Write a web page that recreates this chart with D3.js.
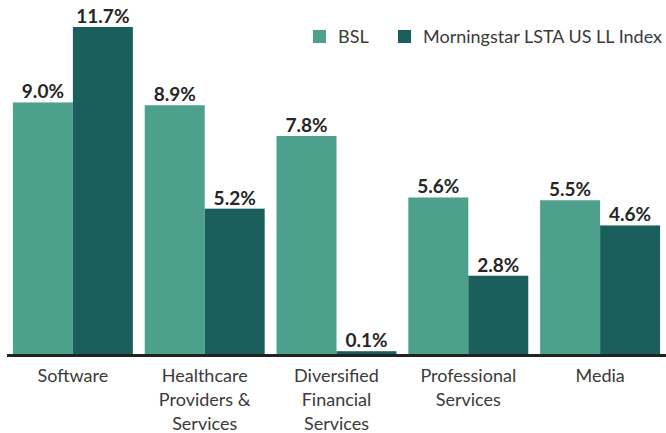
<!DOCTYPE html>
<html>
<head>
<meta charset="utf-8">
<script src="https://cdn.jsdelivr.net/npm/d3@7"></script>
<style>
  body { margin: 0; background: #fff; }
  svg { display: block; font-family: Lato, "Open Sans", sans-serif; }
</style>
</head>
<body>
<div id="chart"></div>
<script>
// data
var categories = ["Software", "Healthcare|Providers &|Services", "Diversified|Financial|Services", "Professional|Services", "Media"];
var seriesNames = ["BSL", "Morningstar LSTA US LL Index"];
var bslValues = [9.0, 8.9, 7.8, 5.6, 5.5];
var lstaValues = [11.7, 5.2, 0.1, 2.8, 4.6];
var colors = ["#4da08b", "#1a5f5c"];

var width = 666, height = 433;
var baseY = 354;

var svg = d3.select("#chart").append("svg")
  .attr("width", width).attr("height", height);

var x0 = d3.scaleBand()
  .domain(d3.range(categories.length))
  .range([7, 666])
  .paddingInner(0.09)
  .paddingOuter(0.045);

var x1 = d3.scaleBand()
  .domain([0, 1])
  .range([0, x0.bandwidth()]);

var y = d3.scaleLinear()
  .domain([0, 12])
  .range([baseY, baseY - 12 * 27.95]);

var rows = categories.map(function(c, i) {
  return { cat: c, i: i, vals: [bslValues[i], lstaValues[i]] };
});

var groups = svg.selectAll("g.grp")
  .data(rows)
  .enter().append("g")
  .attr("class", "grp")
  .attr("transform", function(d) { return "translate(" + x0(d.i) + ",0)"; });

groups.selectAll("rect")
  .data(function(d) { return d.vals.map(function(v, k) { return { v: v, k: k }; }); })
  .enter().append("rect")
  .attr("x", function(d) { return x1(d.k); })
  .attr("y", function(d) { return y(d.v); })
  .attr("width", x1.bandwidth())
  .attr("height", function(d) { return baseY - y(d.v); })
  .attr("fill", function(d) { return colors[d.k]; });

groups.selectAll("text.val")
  .data(function(d) { return d.vals.map(function(v, k) { return { v: v, k: k }; }); })
  .enter().append("text")
  .attr("class", "val")
  .attr("x", function(d) { return x1(d.k) + x1.bandwidth() / 2; })
  .attr("y", function(d) { return y(d.v) - 4; })
  .attr("text-anchor", "middle")
  .attr("font-size", 19)
  .attr("font-weight", "bold")
  .attr("fill", "#262626")
  .text(function(d) { return d.v.toFixed(1) + "%"; });

// baseline
svg.append("line")
  .attr("x1", 7).attr("x2", 666)
  .attr("y1", baseY + 1.5).attr("y2", baseY + 1.5)
  .attr("stroke", "#222").attr("stroke-width", 3);

// category labels, split on |
groups.append("text")
  .attr("class", "cat")
  .attr("text-anchor", "middle")
  .attr("font-size", 18)
  .attr("fill", "#3a3a3a")
  .selectAll("tspan")
  .data(function(d) { return d.cat.split("|"); })
  .enter().append("tspan")
  .attr("x", x0.bandwidth() / 2)
  .attr("y", function(d, i) { return 382 + i * 24; })
  .text(function(d) { return d; });

// legend
var legend = svg.append("g");
var legX = [313, 398];
seriesNames.forEach(function(name, k) {
  legend.append("rect")
    .attr("x", legX[k]).attr("y", 30)
    .attr("width", 13).attr("height", 13)
    .attr("fill", colors[k]);
  legend.append("text")
    .attr("x", legX[k] + 25).attr("y", 43)
    .attr("font-size", 18)
    .attr("fill", "#3a3a3a")
    .text(name);
});
</script>
</body>
</html>
